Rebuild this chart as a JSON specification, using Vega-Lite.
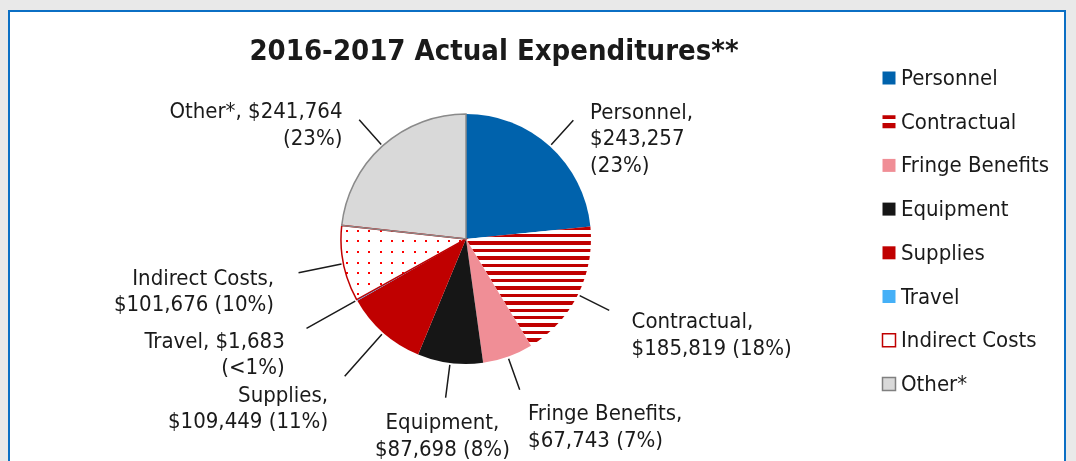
{
  "$schema": "https://vega.github.io/schema/vega-lite/v6.json",
  "autosize": {"type": "none"},
  "padding": {"left": 9, "top": 11, "right": 11, "bottom": 0},
  "width": 1056,
  "height": 470,
  "background": "#e9e9e9",
  "config": {
    "view": {"fill": "#ffffff", "stroke": "#0B6FC4", "strokeWidth": 2},
    "font": "DejaVu Sans Condensed"
  },
  "title": {
    "text": "2016-2017 Actual Expenditures**",
    "fontSize": 29,
    "fontWeight": "bold",
    "color": "#1a1a1a",
    "font": "DejaVu Sans Condensed",
    "anchor": "middle",
    "offset": -55,
    "dx": -43
  },
  "data": {
    "values": [
      {"cat": "Personnel", "v": 243257, "label": "Personnel,\n$243,257\n(23%)"},
      {"cat": "Contractual", "v": 185819, "label": "Contractual,\n$185,819 (18%)"},
      {"cat": "Fringe Benefits", "v": 67743, "label": "Fringe Benefits,\n$67,743 (7%)"},
      {"cat": "Equipment", "v": 87698, "label": "Equipment,\n$87,698 (8%)"},
      {"cat": "Supplies", "v": 109449, "label": "Supplies,\n$109,449 (11%)"},
      {"cat": "Travel", "v": 1683, "label": "Travel, $1,683\n(<1%)"},
      {"cat": "Indirect Costs", "v": 101676, "label": "Indirect Costs,\n$101,676 (10%)"},
      {"cat": "Other*", "v": 241764, "label": "Other*, $241,764\n(23%)"}
    ]
  },
  "transform": [
    {"window": [{"op": "sum", "field": "v", "as": "cum"}, {"op": "row_number", "as": "idx"}], "frame": [null, 0]},
    {"calculate": "datum.cum - datum.v / 2", "as": "mid"}
  ],
  "encoding": {
    "x": {"datum": 0, "type": "quantitative", "scale": {"domain": [-457, 599]}, "axis": null},
    "y": {"datum": 0, "type": "quantitative", "scale": {"domain": [-242, 228]}, "axis": null}
  },
  "layer": [
    {
      "mark": {"type": "arc", "radius": 125},
      "encoding": {
        "theta": {"field": "v", "type": "quantitative", "stack": true},
        "order": {"field": "idx", "type": "quantitative"},
        "color": {
          "field": "cat",
          "type": "nominal",
          "scale": {
            "domain": ["Personnel", "Contractual", "Fringe Benefits", "Equipment", "Supplies", "Travel", "Indirect Costs", "Other*"],
            "range": ["#0062AC", "#C00000", "#F08E96", "#161616", "#C00000", "#45B0F7", "#FFFFFF", "#D9D9D9"]
          },
          "condition": [
            {
              "test": "datum.cat === 'Contractual'",
              "value": {
                "gradient": "linear", "x1": 0, "y1": 0, "x2": 0, "y2": 1,
                "stops": [
                  {"offset": 0, "color": "#C00000"}, {"offset": 0.029, "color": "#C00000"}, {"offset": 0.029, "color": "#ffffff"}, {"offset": 0.0625, "color": "#ffffff"},
                  {"offset": 0.0625, "color": "#C00000"}, {"offset": 0.0915, "color": "#C00000"}, {"offset": 0.0915, "color": "#ffffff"}, {"offset": 0.125, "color": "#ffffff"},
                  {"offset": 0.125, "color": "#C00000"}, {"offset": 0.154, "color": "#C00000"}, {"offset": 0.154, "color": "#ffffff"}, {"offset": 0.1875, "color": "#ffffff"},
                  {"offset": 0.1875, "color": "#C00000"}, {"offset": 0.2165, "color": "#C00000"}, {"offset": 0.2165, "color": "#ffffff"}, {"offset": 0.25, "color": "#ffffff"},
                  {"offset": 0.25, "color": "#C00000"}, {"offset": 0.279, "color": "#C00000"}, {"offset": 0.279, "color": "#ffffff"}, {"offset": 0.3125, "color": "#ffffff"},
                  {"offset": 0.3125, "color": "#C00000"}, {"offset": 0.3415, "color": "#C00000"}, {"offset": 0.3415, "color": "#ffffff"}, {"offset": 0.375, "color": "#ffffff"},
                  {"offset": 0.375, "color": "#C00000"}, {"offset": 0.404, "color": "#C00000"}, {"offset": 0.404, "color": "#ffffff"}, {"offset": 0.4375, "color": "#ffffff"},
                  {"offset": 0.4375, "color": "#C00000"}, {"offset": 0.4665, "color": "#C00000"}, {"offset": 0.4665, "color": "#ffffff"}, {"offset": 0.5, "color": "#ffffff"},
                  {"offset": 0.5, "color": "#C00000"}, {"offset": 0.529, "color": "#C00000"}, {"offset": 0.529, "color": "#ffffff"}, {"offset": 0.5625, "color": "#ffffff"},
                  {"offset": 0.5625, "color": "#C00000"}, {"offset": 0.5915, "color": "#C00000"}, {"offset": 0.5915, "color": "#ffffff"}, {"offset": 0.625, "color": "#ffffff"},
                  {"offset": 0.625, "color": "#C00000"}, {"offset": 0.654, "color": "#C00000"}, {"offset": 0.654, "color": "#ffffff"}, {"offset": 0.6875, "color": "#ffffff"},
                  {"offset": 0.6875, "color": "#C00000"}, {"offset": 0.7165, "color": "#C00000"}, {"offset": 0.7165, "color": "#ffffff"}, {"offset": 0.75, "color": "#ffffff"},
                  {"offset": 0.75, "color": "#C00000"}, {"offset": 0.779, "color": "#C00000"}, {"offset": 0.779, "color": "#ffffff"}, {"offset": 0.8125, "color": "#ffffff"},
                  {"offset": 0.8125, "color": "#C00000"}, {"offset": 0.8415, "color": "#C00000"}, {"offset": 0.8415, "color": "#ffffff"}, {"offset": 0.875, "color": "#ffffff"},
                  {"offset": 0.875, "color": "#C00000"}, {"offset": 0.904, "color": "#C00000"}, {"offset": 0.904, "color": "#ffffff"}, {"offset": 0.9375, "color": "#ffffff"},
                  {"offset": 0.9375, "color": "#C00000"}, {"offset": 0.9665, "color": "#C00000"}, {"offset": 0.9665, "color": "#ffffff"}, {"offset": 1, "color": "#ffffff"}
                ]
              }
            },
            {
              "test": "datum.cat === 'Indirect Costs'",
              "value": {
                "gradient": "linear", "x1": 0, "y1": 0, "x2": 0, "y2": 1,
                "stops": [
                  {"offset": 0, "color": "#ffffff"},
                  {"offset": 0.058, "color": "#ffffff"}, {"offset": 0.058, "color": "#ff0000"}, {"offset": 0.085, "color": "#ff0000"}, {"offset": 0.085, "color": "#ffffff"},
                  {"offset": 0.201, "color": "#ffffff"}, {"offset": 0.201, "color": "#ff0000"}, {"offset": 0.228, "color": "#ff0000"}, {"offset": 0.228, "color": "#ffffff"},
                  {"offset": 0.344, "color": "#ffffff"}, {"offset": 0.344, "color": "#ff0000"}, {"offset": 0.371, "color": "#ff0000"}, {"offset": 0.371, "color": "#ffffff"},
                  {"offset": 0.487, "color": "#ffffff"}, {"offset": 0.487, "color": "#ff0000"}, {"offset": 0.514, "color": "#ff0000"}, {"offset": 0.514, "color": "#ffffff"},
                  {"offset": 0.629, "color": "#ffffff"}, {"offset": 0.629, "color": "#ff0000"}, {"offset": 0.656, "color": "#ff0000"}, {"offset": 0.656, "color": "#ffffff"},
                  {"offset": 0.772, "color": "#ffffff"}, {"offset": 0.772, "color": "#ff0000"}, {"offset": 0.799, "color": "#ff0000"}, {"offset": 0.799, "color": "#ffffff"},
                  {"offset": 0.915, "color": "#ffffff"}, {"offset": 0.915, "color": "#ff0000"}, {"offset": 0.942, "color": "#ff0000"}, {"offset": 0.942, "color": "#ffffff"},
                  {"offset": 1, "color": "#ffffff"}
                ]
              }
            }
          ],
          "legend": {
            "title": null,
            "orient": "none",
            "legendX": 869,
            "legendY": 56,
            "padding": 0,
            "symbolType": "square",
            "symbolSize": 169,
            "symbolStrokeWidth": 1.5,
            "labelFontSize": 22,
            "labelFont": "DejaVu Sans Condensed",
            "labelColor": "#1a1a1a",
            "labelOffset": 1,
            "labelLimit": 300,
            "rowPadding": 21.7,
            "encode": {
              "symbols": {
                "update": {
                  "shape": [
                    {"test": "datum.value === 'Contractual'", "value": "M-1,-1H1V-0.42H-1Z M-1,0.2H1V1H-1Z"},
                    {"value": "square"}
                  ],
                  "stroke": [
                    {"test": "datum.value === 'Indirect Costs'", "value": "#C00000"},
                    {"test": "datum.value === 'Other*'", "value": "#808080"},
                    {"value": "transparent"}
                  ]
                }
              }
            }
          }
        }
      }
    },
    {
      "mark": {"type": "arc", "radius": 125, "blend": "lighten"},
      "encoding": {
        "theta": {"field": "v", "type": "quantitative", "stack": true},
        "order": {"field": "idx", "type": "quantitative"},
        "detail": {"field": "cat", "type": "nominal"},
        "color": {
          "condition": {
            "test": "datum.cat === 'Indirect Costs'",
            "value": {
              "gradient": "linear", "x1": 0, "y1": 0, "x2": 1, "y2": 0,
              "stops": [
                {"offset": 0, "color": "#ffffff"},
                {"offset": 0.037, "color": "#ffffff"}, {"offset": 0.037, "color": "#ff0000"}, {"offset": 0.053, "color": "#ff0000"}, {"offset": 0.053, "color": "#ffffff"},
                {"offset": 0.128, "color": "#ffffff"}, {"offset": 0.128, "color": "#ff0000"}, {"offset": 0.144, "color": "#ff0000"}, {"offset": 0.144, "color": "#ffffff"},
                {"offset": 0.219, "color": "#ffffff"}, {"offset": 0.219, "color": "#ff0000"}, {"offset": 0.235, "color": "#ff0000"}, {"offset": 0.235, "color": "#ffffff"},
                {"offset": 0.31, "color": "#ffffff"}, {"offset": 0.31, "color": "#ff0000"}, {"offset": 0.326, "color": "#ff0000"}, {"offset": 0.326, "color": "#ffffff"},
                {"offset": 0.401, "color": "#ffffff"}, {"offset": 0.401, "color": "#ff0000"}, {"offset": 0.417, "color": "#ff0000"}, {"offset": 0.417, "color": "#ffffff"},
                {"offset": 0.492, "color": "#ffffff"}, {"offset": 0.492, "color": "#ff0000"}, {"offset": 0.508, "color": "#ff0000"}, {"offset": 0.508, "color": "#ffffff"},
                {"offset": 0.583, "color": "#ffffff"}, {"offset": 0.583, "color": "#ff0000"}, {"offset": 0.599, "color": "#ff0000"}, {"offset": 0.599, "color": "#ffffff"},
                {"offset": 0.674, "color": "#ffffff"}, {"offset": 0.674, "color": "#ff0000"}, {"offset": 0.69, "color": "#ff0000"}, {"offset": 0.69, "color": "#ffffff"},
                {"offset": 0.765, "color": "#ffffff"}, {"offset": 0.765, "color": "#ff0000"}, {"offset": 0.781, "color": "#ff0000"}, {"offset": 0.781, "color": "#ffffff"},
                {"offset": 0.856, "color": "#ffffff"}, {"offset": 0.856, "color": "#ff0000"}, {"offset": 0.872, "color": "#ff0000"}, {"offset": 0.872, "color": "#ffffff"},
                {"offset": 0.947, "color": "#ffffff"}, {"offset": 0.947, "color": "#ff0000"}, {"offset": 0.963, "color": "#ff0000"}, {"offset": 0.963, "color": "#ffffff"},
                {"offset": 1, "color": "#ffffff"}
              ]
            }
          },
          "value": "transparent"
        }
      }
    },
    {
      "mark": {"type": "arc", "radius": 125, "fill": "transparent", "strokeWidth": 1.5},
      "encoding": {
        "theta": {"field": "v", "type": "quantitative", "stack": true},
        "order": {"field": "idx", "type": "quantitative"},
        "detail": {"field": "cat", "type": "nominal"},
        "stroke": {
          "condition": [
            {"test": "datum.cat === 'Indirect Costs'", "value": "#C00000"},
            {"test": "datum.cat === 'Other*'", "value": "#8a8a8a"}
          ],
          "value": null
        }
      }
    },
    {
      "mark": {
        "type": "arc",
        "radius": {"expr": "160 + 75 * max(0, -sin(scale('theta', datum.mid)) - 0.25) * max(0, -cos(scale('theta', datum.mid)))"},
        "radius2": 127,
        "fill": "transparent",
        "stroke": "#1a1a1a",
        "strokeWidth": 1.5
      },
      "encoding": {
        "theta": {"field": "mid", "type": "quantitative"},
        "theta2": {"field": "mid"}
      }
    },
    {
      "mark": {
        "type": "text",
        "radius": {"expr": "185 + 75 * max(0, -sin(scale('theta', datum.mid)) - 0.25) * max(0, -cos(scale('theta', datum.mid)))"},
        "fontSize": 22,
        "font": "DejaVu Sans Condensed",
        "color": "#1a1a1a",
        "lineBreak": "\n",
        "lineHeight": 26.5,
        "baseline": {"expr": "cos(scale('theta', datum.mid)) > 0.5 ? 'top' : 'middle'"},
        "align": {"expr": "sin(scale('theta', datum.mid)) > 0.3 ? 'left' : (sin(scale('theta', datum.mid)) < -0.3 ? 'right' : 'center')"}
      },
      "encoding": {
        "theta": {"field": "mid", "type": "quantitative"},
        "text": {"field": "label", "type": "nominal"}
      }
    }
  ]
}
